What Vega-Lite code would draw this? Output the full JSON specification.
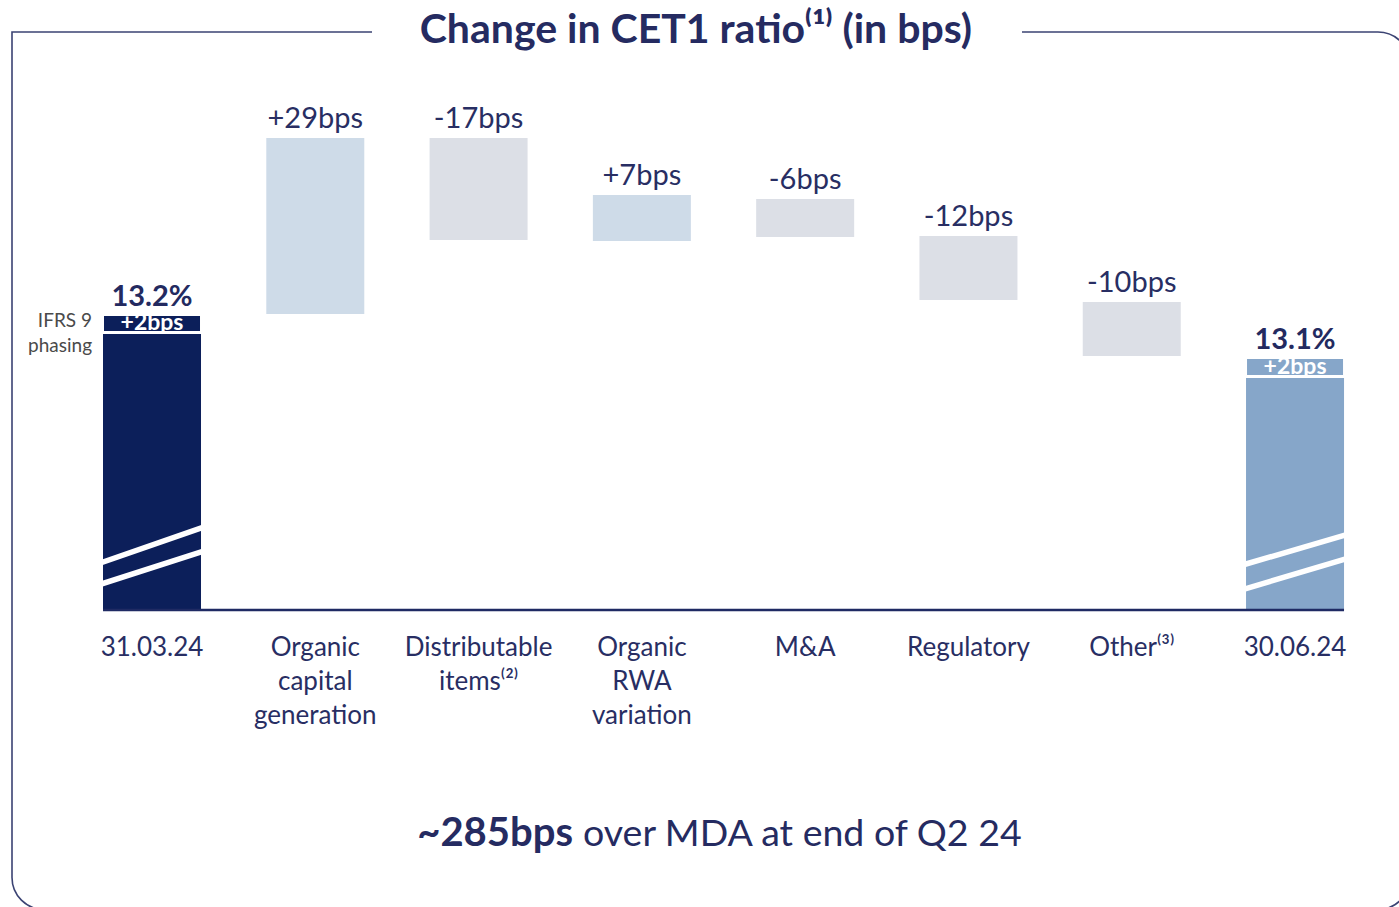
{
  "$schema": "https://vega.github.io/schema/vega-lite/v6.json",
  "width": 1399,
  "height": 907,
  "autosize": {"type": "none"},
  "padding": 0,
  "background": "white",
  "config": {"view": {"stroke": null}, "font": "Lato", "text": {"font": "Lato"}, "scale": {"continuousPadding": 0}},
  "datasets": {
    "bars": [
      {"cat": "31.03.24", "i": 0, "lo": 1271, "hi": 1317, "kind": "start"},
      {"cat": "Organic\ncapital\ngeneration", "i": 1, "lo": 1320.33, "hi": 1349.67, "kind": "up", "label": "+29bps"},
      {"cat": "Distributable\nitems⁽²⁾", "i": 2, "lo": 1332.67, "hi": 1349.67, "kind": "down", "label": "-17bps"},
      {"cat": "Organic\nRWA\nvariation", "i": 3, "lo": 1332.5, "hi": 1340.17, "kind": "up", "label": "+7bps"},
      {"cat": "M&A", "i": 4, "lo": 1333.17, "hi": 1339.5, "kind": "down", "label": "-6bps"},
      {"cat": "Regulatory", "i": 5, "lo": 1322.67, "hi": 1333.33, "kind": "down", "label": "-12bps"},
      {"cat": "Other⁽³⁾", "i": 6, "lo": 1313.33, "hi": 1322.33, "kind": "down", "label": "-10bps"},
      {"cat": "30.06.24", "i": 7, "lo": 1271, "hi": 1309.67, "kind": "end"}
    ],
    "phasing": [
      {"i": 0, "lo": 1317.5, "hi": 1320, "kind": "start", "total": "13.2%", "label": "+2bps"},
      {"i": 7, "lo": 1310.17, "hi": 1312.83, "kind": "end", "total": "13.1%", "label": "+2bps"}
    ],
    "breaks": [
      {"xl": -0.3, "xr": 0.3, "yl": 1279.0, "yr": 1284.67},
      {"xl": -0.3, "xr": 0.3, "yl": 1275.42, "yr": 1280.67},
      {"xl": 6.7, "xr": 7.3, "yl": 1278.67, "yr": 1283.42},
      {"xl": 6.7, "xr": 7.3, "yl": 1274.58, "yr": 1279.42}
    ]
  },
  "layer": [
    {
      "data": {"values": [{}]},
      "mark": {"type": "rect", "fill": "transparent", "stroke": "#3b4373", "strokeWidth": 1.6, "cornerRadius": 32, "cornerRadiusTopLeft": 0},
      "encoding": {
        "x": {"datum": -0.8574, "type": "quantitative", "scale": {"domain": [-0.9309, 7.6367], "nice": false, "zero": false, "padding": 0}, "axis": null},
        "x2": {"datum": 7.704},
        "y": {"datum": 1221.08, "type": "quantitative", "scale": {"domain": [1221.5, 1372.6667], "nice": false, "zero": false, "padding": 0}, "axis": null},
        "y2": {"datum": 1367.33}
      }
    },
    {
      "data": {"values": [{}]},
      "mark": {"type": "rect", "fill": "white", "stroke": null},
      "encoding": {
        "x": {"datum": 1.3473, "type": "quantitative", "scale": {"domain": [-0.9309, 7.6367], "nice": false, "zero": false, "padding": 0}, "axis": null},
        "x2": {"datum": 5.3279},
        "y": {"datum": 1366.4, "type": "quantitative", "scale": {"domain": [1221.5, 1372.6667], "nice": false, "zero": false, "padding": 0}, "axis": null},
        "y2": {"datum": 1368.3}
      }
    },
    {
      "data": {"name": "bars"},
      "mark": {"type": "bar", "width": 98},
      "encoding": {
        "x": {"field": "i", "type": "quantitative", "scale": {"domain": [-0.9309, 7.6367], "nice": false, "zero": false, "padding": 0}, "axis": null},
        "y": {"field": "lo", "type": "quantitative", "scale": {"domain": [1221.5, 1372.6667], "nice": false, "zero": false, "padding": 0}, "axis": null},
        "y2": {"field": "hi"},
        "color": {"field": "kind", "type": "nominal", "scale": {"domain": ["start", "up", "down", "end"], "range": ["#0c1f5a", "#cedbe8", "#dcdfe6", "#86a6c9"]}, "legend": null}
      }
    },
    {
      "data": {"name": "phasing"},
      "mark": {"type": "bar", "width": 96},
      "encoding": {
        "x": {"field": "i", "type": "quantitative", "scale": {"domain": [-0.9309, 7.6367], "nice": false, "zero": false, "padding": 0}, "axis": null},
        "y": {"field": "lo", "type": "quantitative", "scale": {"domain": [1221.5, 1372.6667], "nice": false, "zero": false, "padding": 0}, "axis": null},
        "y2": {"field": "hi"},
        "color": {"field": "kind", "type": "nominal", "scale": {"domain": ["start", "up", "down", "end"], "range": ["#0c1f5a", "#cedbe8", "#dcdfe6", "#86a6c9"]}, "legend": null}
      }
    },
    {
      "data": {"name": "breaks"},
      "mark": {"type": "rule", "stroke": "white", "strokeWidth": 5.5, "strokeCap": "square"},
      "encoding": {
        "x": {"field": "xl", "type": "quantitative", "scale": {"domain": [-0.9309, 7.6367], "nice": false, "zero": false, "padding": 0}, "axis": null},
        "x2": {"field": "xr"},
        "y": {"field": "yl", "type": "quantitative", "scale": {"domain": [1221.5, 1372.6667], "nice": false, "zero": false, "padding": 0}, "axis": null},
        "y2": {"field": "yr"}
      }
    },
    {
      "data": {"values": [{}]},
      "mark": {"type": "rule", "stroke": "#1f2a63", "strokeWidth": 2.5},
      "encoding": {
        "x": {"datum": -0.3, "type": "quantitative", "scale": {"domain": [-0.9309, 7.6367], "nice": false, "zero": false, "padding": 0}, "axis": null},
        "x2": {"datum": 7.3},
        "y": {"datum": 1271, "type": "quantitative", "scale": {"domain": [1221.5, 1372.6667], "nice": false, "zero": false, "padding": 0}, "axis": null}
      }
    },
    {
      "data": {"name": "bars"},
      "transform": [{"filter": "isValid(datum.label)"}],
      "mark": {"type": "text", "fontSize": 29, "color": "#282e63", "align": "center", "baseline": "alphabetic", "dy": -10},
      "encoding": {
        "x": {"field": "i", "type": "quantitative", "scale": {"domain": [-0.9309, 7.6367], "nice": false, "zero": false, "padding": 0}, "axis": null},
        "y": {"field": "hi", "type": "quantitative", "scale": {"domain": [1221.5, 1372.6667], "nice": false, "zero": false, "padding": 0}, "axis": null},
        "text": {"field": "label"}
      }
    },
    {
      "data": {"name": "bars"},
      "mark": {"type": "text", "fontSize": 26, "color": "#282e63", "align": "center", "baseline": "alphabetic", "dy": 46, "lineBreak": "\n", "lineHeight": 34},
      "encoding": {
        "x": {"field": "i", "type": "quantitative", "scale": {"domain": [-0.9309, 7.6367], "nice": false, "zero": false, "padding": 0}, "axis": null},
        "y": {"datum": 1271, "type": "quantitative", "scale": {"domain": [1221.5, 1372.6667], "nice": false, "zero": false, "padding": 0}, "axis": null},
        "text": {"field": "cat"}
      }
    },
    {
      "data": {"name": "phasing"},
      "mark": {"type": "text", "fontSize": 29, "fontWeight": "bold", "color": "#232a60", "align": "center", "baseline": "alphabetic", "dy": -10},
      "encoding": {
        "x": {"field": "i", "type": "quantitative", "scale": {"domain": [-0.9309, 7.6367], "nice": false, "zero": false, "padding": 0}, "axis": null},
        "y": {"field": "hi", "type": "quantitative", "scale": {"domain": [1221.5, 1372.6667], "nice": false, "zero": false, "padding": 0}, "axis": null},
        "text": {"field": "total"}
      }
    },
    {
      "data": {"name": "phasing"},
      "mark": {"type": "text", "fontSize": 23, "fontWeight": "bold", "color": "white", "align": "center", "baseline": "alphabetic", "dy": -1},
      "encoding": {
        "x": {"field": "i", "type": "quantitative", "scale": {"domain": [-0.9309, 7.6367], "nice": false, "zero": false, "padding": 0}, "axis": null},
        "y": {"field": "lo", "type": "quantitative", "scale": {"domain": [1221.5, 1372.6667], "nice": false, "zero": false, "padding": 0}, "axis": null},
        "text": {"field": "label"}
      }
    },
    {
      "data": {"values": [{}]},
      "mark": {"type": "text", "fontSize": 19, "color": "#4a4a4a", "align": "right", "baseline": "alphabetic", "dx": -11, "lineBreak": "\n", "lineHeight": 25},
      "encoding": {
        "x": {"datum": -0.3, "type": "quantitative", "scale": {"domain": [-0.9309, 7.6367], "nice": false, "zero": false, "padding": 0}, "axis": null},
        "y": {"datum": 1318.17, "type": "quantitative", "scale": {"domain": [1221.5, 1372.6667], "nice": false, "zero": false, "padding": 0}, "axis": null},
        "text": {"value": "IFRS 9\nphasing"}
      }
    },
    {
      "data": {"values": [{}]},
      "mark": {"type": "text", "fontSize": 41, "fontWeight": "bold", "color": "#252b61", "align": "center", "baseline": "alphabetic"},
      "encoding": {
        "x": {"datum": 3.331, "type": "quantitative", "scale": {"domain": [-0.9309, 7.6367], "nice": false, "zero": false, "padding": 0}, "axis": null},
        "y": {"datum": 1365.5, "type": "quantitative", "scale": {"domain": [1221.5, 1372.6667], "nice": false, "zero": false, "padding": 0}, "axis": null},
        "text": {"value": "Change in CET1 ratio⁽¹⁾ (in bps)"}
      }
    },
    {
      "data": {"values": [{}]},
      "mark": {"type": "text", "fontSize": 40, "fontWeight": "bold", "color": "#252b61", "align": "right", "baseline": "alphabetic", "dx": -5},
      "encoding": {
        "x": {"datum": 2.609, "type": "quantitative", "scale": {"domain": [-0.9309, 7.6367], "nice": false, "zero": false, "padding": 0}, "axis": null},
        "y": {"datum": 1231.67, "type": "quantitative", "scale": {"domain": [1221.5, 1372.6667], "nice": false, "zero": false, "padding": 0}, "axis": null},
        "text": {"value": "~285bps"}
      }
    },
    {
      "data": {"values": [{}]},
      "mark": {"type": "text", "fontSize": 37.5, "color": "#252b61", "align": "left", "baseline": "alphabetic", "dx": 5},
      "encoding": {
        "x": {"datum": 2.609, "type": "quantitative", "scale": {"domain": [-0.9309, 7.6367], "nice": false, "zero": false, "padding": 0}, "axis": null},
        "y": {"datum": 1231.67, "type": "quantitative", "scale": {"domain": [1221.5, 1372.6667], "nice": false, "zero": false, "padding": 0}, "axis": null},
        "text": {"value": "over MDA at end of Q2 24"}
      }
    }
  ]
}
